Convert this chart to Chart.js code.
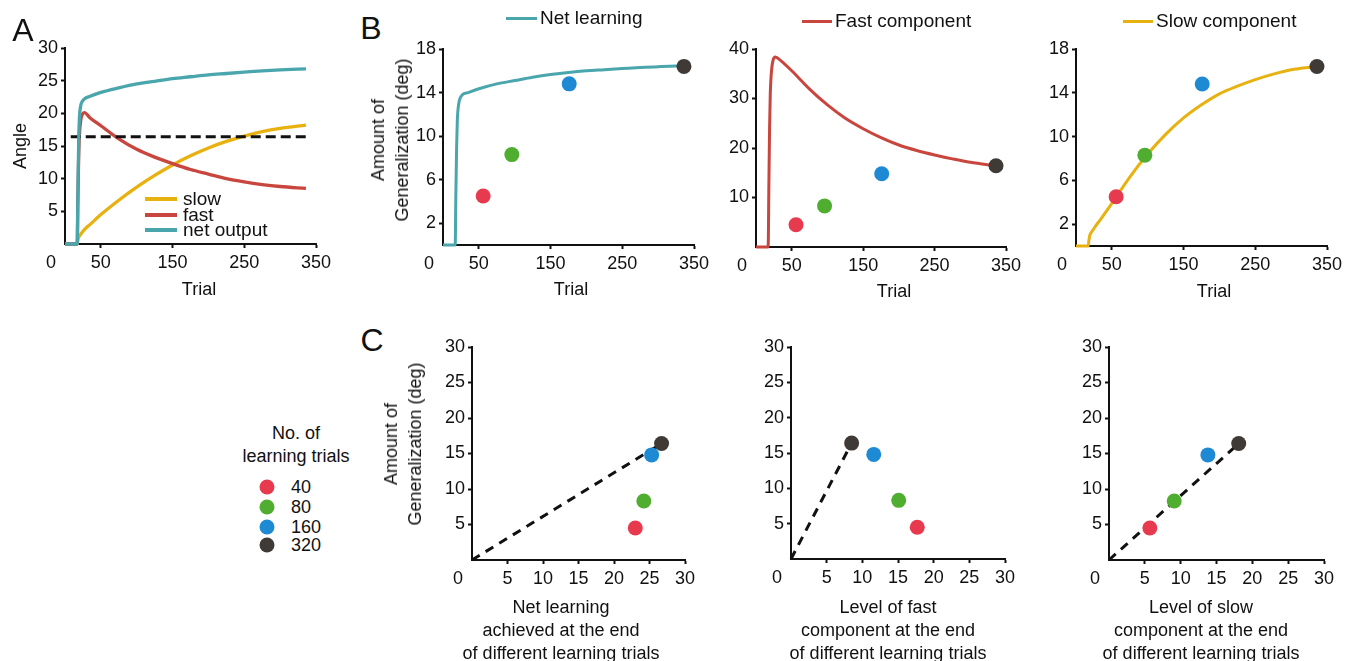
<!DOCTYPE html>
<html>
<head>
<meta charset="utf-8">
<script src="https://cdn.jsdelivr.net/npm/chart.js@4.4.1/dist/chart.umd.min.js"></script>
<style>
  html, body { margin: 0; padding: 0; background: #fff; }
  body { width: 1347px; height: 661px; position: relative; overflow: hidden;
         font-family: "Liberation Sans", Arial, sans-serif; color: #111; }
  canvas { position: absolute; }
  .t { position: absolute; white-space: nowrap; transform: translate(-50%, -50%);
       font-size: 18px; line-height: 23px; text-align: center; }
  .rot { transform: translate(-50%, -50%) rotate(-90deg); line-height: 24px; }
  .letter { font-size: 32px; line-height: 32px; }
  .key { position: absolute; white-space: nowrap; font-size: 19px; line-height: 20px; transform: translateY(-50%); }
  .ln { position: absolute; height: 3px; }
  .dot { position: absolute; width: 15px; height: 15px; border-radius: 50%; transform: translate(-50%, -50%); }
</style>
</head>
<body>
<canvas id="chartA"></canvas>
<canvas id="chartNet"></canvas>
<canvas id="chartFast"></canvas>
<canvas id="chartSlow"></canvas>
<canvas id="chartCNet"></canvas>
<canvas id="chartCFast"></canvas>
<canvas id="chartCSlow"></canvas>

<!-- letras de panel -->
<div class="t letter" style="left:23px;top:30px">A</div>
<div class="t letter" style="left:371px;top:28px">B</div>
<div class="t letter" style="left:372px;top:340px">C</div>

<!-- titulos de ejes -->
<div class="t rot" style="left:20px;top:146px">Angle</div>
<div class="t" style="left:199px;top:289px">Trial</div>
<div class="t" style="left:571px;top:289px">Trial</div>
<div class="t" style="left:894px;top:291px">Trial</div>
<div class="t" style="left:1214px;top:291px">Trial</div>
<div class="t rot" style="left:390px;top:140px">Amount of<br>Generalization (deg)</div>
<div class="t rot" style="left:403px;top:444px">Amount of<br>Generalization (deg)</div>
<div class="t" style="left:561px;top:630px">Net learning<br>achieved at the end<br>of different learning trials</div>
<div class="t" style="left:888px;top:630px">Level of fast<br>component at the end<br>of different learning trials</div>
<div class="t" style="left:1201px;top:630px">Level of slow<br>component at the end<br>of different learning trials</div>

<!-- leyendas B -->
<div class="ln" style="left:506px;top:17px;width:31px;background:#4aa6ad"></div>
<div class="key" style="left:540px;top:18px">Net learning</div>
<div class="ln" style="left:802px;top:20px;width:30px;background:#c8463d"></div>
<div class="key" style="left:835px;top:21px">Fast component</div>
<div class="ln" style="left:1123px;top:20px;width:30px;background:#e7b20f"></div>
<div class="key" style="left:1156px;top:21px">Slow component</div>

<!-- leyenda A -->
<div class="ln" style="left:145px;top:197px;width:32px;height:4px;background:#e7b20f"></div>
<div class="key" style="left:183px;top:199px">slow</div>
<div class="ln" style="left:145px;top:213px;width:32px;height:4px;background:#c8463d"></div>
<div class="key" style="left:183px;top:215px">fast</div>
<div class="ln" style="left:145px;top:228px;width:32px;height:4px;background:#4aa6ad"></div>
<div class="key" style="left:183px;top:230px">net output</div>

<!-- leyenda de ensayos -->
<div class="t" style="left:296px;top:445px">No. of<br>learning trials</div>
<div id="trialKey"></div>

<script>
// Ensayos muestreados para las curvas
const trials = [0, 16, 17, 18, 19, 20, 22, 24, 27, 35, 50, 75, 100, 125, 150, 175, 200, 225, 250, 275, 300, 336];

// Panel A: angulo
const angleNet = [0, 0, 0, 8, 15, 19, 21.2, 21.8, 22.2, 22.6, 23.2, 23.9, 24.5, 24.9, 25.3, 25.6, 25.9, 26.1, 26.3, 26.5, 26.65, 26.8];
const angleFast = [0, 0, 0, 7, 13, 16.5, 19.0, 19.8, 20.1, 19.3, 18.1, 16.1, 14.5, 13.3, 12.3, 11.4, 10.7, 10.0, 9.5, 9.1, 8.8, 8.5];
const angleSlow = [0, 0, 0, 0.6, 1.0, 1.2, 1.5, 1.8, 2.2, 3.0, 4.5, 6.7, 8.7, 10.5, 12.1, 13.5, 14.7, 15.7, 16.5, 17.2, 17.7, 18.2];
const criterionTrials = [8, 336];
const criterion = [16.4, 16.4];

// Panel B: generalizacion
const genNet = [0, 0, 0, 5, 9, 11.5, 13.0, 13.5, 13.8, 14.0, 14.35, 14.8, 15.1, 15.4, 15.65, 15.85, 16.0, 16.1, 16.2, 16.3, 16.38, 16.45];
const genFast = [0, 0, 0, 12, 24, 31, 36, 37.8, 38.4, 37.6, 35.6, 31.9, 28.7, 26.0, 23.9, 22.1, 20.6, 19.5, 18.6, 17.8, 17.1, 16.4];
const genSlow = [0, 0, 0, 0.5, 0.9, 1.1, 1.3, 1.5, 1.8, 2.5, 3.9, 6.3, 8.4, 10.2, 11.7, 12.9, 13.9, 14.6, 15.2, 15.7, 16.1, 16.4];

// Puntos: 40, 80, 160, 320 ensayos de aprendizaje
const trialCounts = ['40', '80', '160', '320'];
const endTrials = [56, 96, 176, 336];
const generalization = [4.5, 8.3, 14.8, 16.4];
const netEnd = [23.0, 24.2, 25.3, 26.7];
const fastEnd = [17.7, 15.1, 11.6, 8.5];
const slowEnd = [5.7, 9.1, 13.8, 18.1];

// Ticks
const trialTicks = [50, 150, 250, 350];
const angleTicks = [5, 10, 15, 20, 25, 30];
const gen18Ticks = [2, 6, 10, 14, 18];
const gen40Ticks = [10, 20, 30, 40];
const cTicks = [5, 10, 15, 20, 25, 30];

const dotColors = ['#e83a4e', '#4fae2f', '#1d8ad3', '#3f3a36'];
const TEAL = '#4aa6ad', RED = '#c8463d', YELLOW = '#e7b20f', INK = '#111';
const FONT = '"Liberation Sans", Arial, sans-serif';

Chart.defaults.font.family = FONT;
Chart.defaults.color = INK;

// leyenda de ensayos (html)
const key = document.getElementById('trialKey');
const keyY = [487, 507, 527, 545];
trialCounts.forEach((n, i) => {
  key.insertAdjacentHTML('beforeend',
    `<div class="dot" style="left:267px;top:${keyY[i]}px;background:${dotColors[i]}"></div>` +
    `<div class="key" style="left:291px;top:${keyY[i]}px;font-size:18px">${n}</div>`);
});

function pts(xs, ys) {
  return xs.map((x, i) => ({ x, y: ys[i] }));
}

// el "0" compartido en la esquina del origen
const originZero = {
  id: 'originZero',
  afterDraw(chart) {
    const { ctx, chartArea } = chart;
    ctx.save();
    ctx.font = '18px ' + FONT;
    ctx.fillStyle = INK;
    ctx.textAlign = 'center';
    ctx.textBaseline = 'middle';
    ctx.fillText('0', chartArea.left - 14, chartArea.bottom + 8 + 10.8);
    ctx.restore();
  }
};

function axis(min, max, ticks, size, pad) {
  return {
    type: 'linear', min, max,
    afterBuildTicks: s => { s.ticks = ticks.map(v => ({ value: v })); },
    afterFit: s => { if (s.isHorizontal()) s.height = size; else s.width = size; },
    ticks: { autoSkip: false, maxRotation: 0, padding: pad, color: INK, font: { size: 18 } },
    grid: { drawOnChartArea: false, tickLength: 4, tickWidth: 2, color: INK },
    border: { color: INK, width: 2 }
  };
}

function curve(xs, ys, color, w) {
  return { data: pts(xs, ys), showLine: true, borderColor: color, borderWidth: w || 3,
           pointRadius: 0, cubicInterpolationMode: 'monotone', clip: 5 };
}
function dots(xs, ys) {
  return { data: pts(xs, ys), showLine: false, pointRadius: 7.5, pointHoverRadius: 7.5,
           pointBackgroundColor: dotColors, pointBorderWidth: 0, clip: false };
}
function dashed(xs, ys, dash) {
  return { data: pts(xs, ys), showLine: true, borderColor: INK, borderWidth: 3,
           borderDash: dash, pointRadius: 0, clip: false };
}

// crea un panel con el area de trazado exacta en coordenadas de pagina
function panel(id, box, xs, ys, datasets) {
  const yW = 60, xH = 40, top = 25;
  const right = Math.min(25, 1347 - box.r);
  const c = document.getElementById(id);
  const left = box.l - yW, y0 = box.t - top;
  const w = box.r + right - left, h = box.b + xH - y0;
  c.style.left = left + 'px';
  c.style.top = y0 + 'px';
  c.style.width = w + 'px';
  c.style.height = h + 'px';
  c.width = w;
  c.height = h;
  return new Chart(c, {
    type: 'scatter',
    data: { datasets },
    options: {
      responsive: false,
      animation: false,
      devicePixelRatio: 1,
      layout: { padding: { left: 0, top, right, bottom: 0 } },
      plugins: { legend: { display: false }, tooltip: { enabled: false } },
      scales: {
        x: axis(xs[0], xs[1], xs[2], xH, 4),
        y: axis(ys[0], ys[1], ys[2], yW, 3)
      }
    },
    plugins: [originZero]
  });
}

// A
panel('chartA', { l: 65, t: 48, r: 316, b: 244 }, [0, 350, trialTicks], [0, 30, angleTicks], [
  curve(trials, angleNet, TEAL, 3.3),
  dashed(criterionTrials, criterion, [10, 5]),
  curve(trials, angleFast, RED, 3.3),
  curve(trials, angleSlow, YELLOW, 3.3)
]);

// B
panel('chartNet', { l: 443, t: 49, r: 694, b: 245 }, [0, 350, trialTicks], [0, 18, gen18Ticks], [
  dots(endTrials, generalization),
  curve(trials, genNet, TEAL)
]);
panel('chartFast', { l: 756, t: 49, r: 1006, b: 247 }, [0, 350, trialTicks], [0, 40, gen40Ticks], [
  dots(endTrials, generalization),
  curve(trials, genFast, RED)
]);
panel('chartSlow', { l: 1076, t: 49, r: 1327, b: 246 }, [0, 350, trialTicks], [0, 18, gen18Ticks], [
  dots(endTrials, generalization),
  curve(trials, genSlow, YELLOW)
]);

// C
panel('chartCNet', { l: 472, t: 347, r: 685, b: 560 }, [0, 30, cTicks], [0, 30, cTicks], [
  dots(netEnd, generalization),
  dashed([0, netEnd[3]], [0, generalization[3]], [9, 7])
]);
panel('chartCFast', { l: 791, t: 347, r: 1005, b: 559 }, [0, 30, cTicks], [0, 30, cTicks], [
  dots(fastEnd, generalization),
  dashed([0, fastEnd[3]], [0, generalization[3]], [9, 7])
]);
panel('chartCSlow', { l: 1109, t: 347, r: 1324, b: 560 }, [0, 30, cTicks], [0, 30, cTicks], [
  dots(slowEnd, generalization),
  dashed([0, slowEnd[3]], [0, generalization[3]], [9, 7])
]);
</script>
</body>
</html>
